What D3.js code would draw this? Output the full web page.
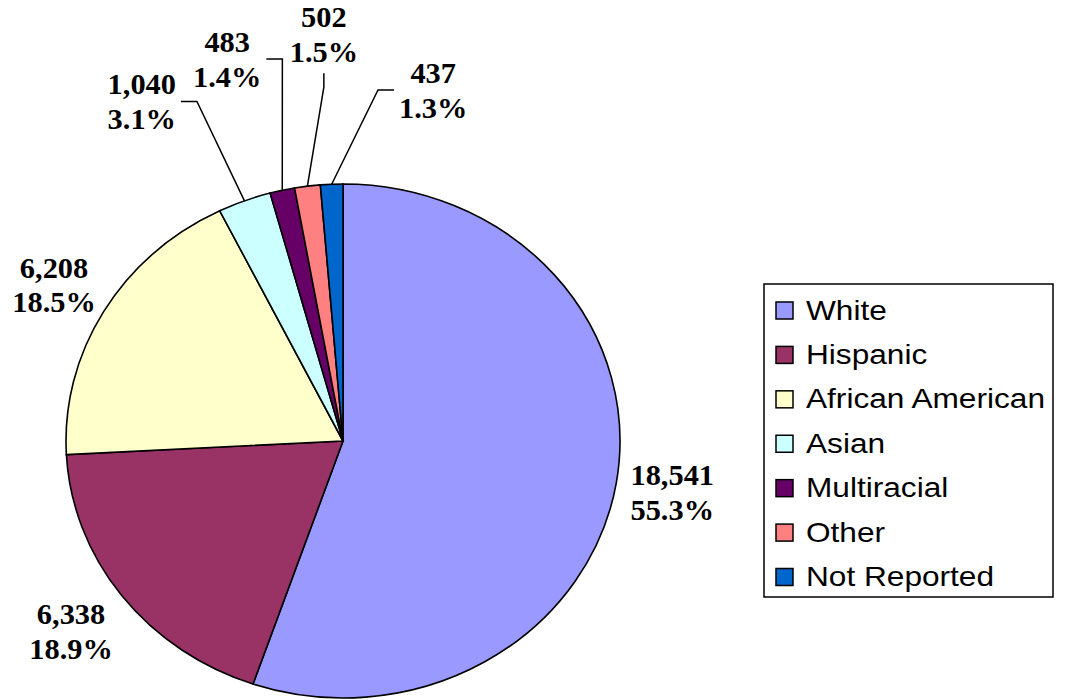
<!DOCTYPE html>
<html>
<head>
<meta charset="utf-8">
<script src="https://cdn.jsdelivr.net/npm/d3@7"></script>
<style>
  html, body { margin: 0; padding: 0; background: #fff; }
  svg { display: block; }
</style>
</head>
<body>
<script>
// data
const categories = ["White", "Hispanic", "African American", "Asian", "Multiracial", "Other", "Not Reported"];
const counts = [18541, 6338, 6208, 1040, 483, 502, 437];
const colors = ["#9999FF", "#993366", "#FFFFCC", "#CCFFFF", "#660066", "#FF8080", "#0066CC"];

// label placement: [angle in degrees (null = slice middle), distance as share of radius]
const labelPlace = [[null, 1.205], [null, 1.23], [null, 1.208], [331.2, 1.508], [344.3, 1.545], [357.5, 1.584], [13.4, 1.405]];

const width = 1066, height = 700;
const cx = 343, cy = 441, rx = 277, ry = 257;
const sx = rx / ry;

const svg = d3.select("body").append("svg")
  .attr("width", width)
  .attr("height", height);

const data = categories.map((name, i) => ({ name, value: counts[i], color: colors[i], place: labelPlace[i] }));
const total = d3.sum(counts);

const pie = d3.pie().value(d => d.value).sort(null);
const arcs = pie(data);

const arc = d3.arc().innerRadius(0).outerRadius(ry);

// pie is stretched a bit wider than tall, like the original
const pieG = svg.append("g").attr("transform", `translate(${cx},${cy}) scale(${sx},1)`);
pieG.selectAll("path")
  .data(arcs)
  .enter()
  .append("path")
  .attr("d", arc)
  .attr("fill", d => d.data.color)
  .attr("stroke", "#000")
  .attr("stroke-width", 1.6)
  .attr("vector-effect", "non-scaling-stroke");

// point on the stretched ellipse
const onEllipse = (a, k) => [cx + rx * k * Math.sin(a), cy - ry * k * Math.cos(a)];

const fmt = d3.format(",");
const tsx = 1.03;
const leaders = svg.append("g");
const labels = svg.append("g");

arcs.forEach(d => {
  const mid = (d.startAngle + d.endAngle) / 2;
  const a = d.data.place[0] === null ? mid : d.data.place[0] * Math.PI / 180;
  const [lx, ly] = onEllipse(a, d.data.place[1]);

  const g = labels.append("g").attr("transform", `translate(${lx},${ly}) scale(${tsx},1)`);
  const t = g.append("text")
    .attr("text-anchor", "middle")
    .attr("font-family", "'Liberation Serif', 'Times New Roman', serif")
    .attr("font-weight", "bold")
    .attr("font-size", 29.5)
    .attr("fill", "#000");
  t.append("tspan").attr("x", 0).attr("y", -7).text(fmt(d.data.value));
  t.append("tspan").attr("x", 0).attr("y", 28).text((d.data.value / total * 100).toFixed(1) + "%");

  // leader lines only for labels pulled away from their slice
  if (d.data.place[0] === null) return;
  const bb = t.node().getBBox();
  const left = lx + bb.x * tsx, right = lx + (bb.x + bb.width) * tsx;
  const top = ly + bb.y, bottom = ly + bb.y + bb.height;
  const midY = (top + bottom) / 2;
  const [ex, ey] = onEllipse(mid, 1);
  const gap = 5, elbow = 16;
  let pts;
  if (ex > right + gap) {
    pts = [[right + gap, midY], [right + gap + elbow, midY], [ex, ey]];
  } else if (ex < left - gap) {
    pts = [[left - gap, midY], [left - gap - elbow, midY], [ex, ey]];
  } else {
    const bx = (left + right) / 2;
    pts = [[bx, bottom + gap], [bx, bottom + gap + 14], [ex, ey]];
  }
  leaders.append("path")
    .attr("d", d3.line()(pts))
    .attr("fill", "none")
    .attr("stroke", "#000")
    .attr("stroke-width", 1.5);
});

// legend
const legend = svg.append("g");
legend.append("rect")
  .attr("x", 764).attr("y", 284)
  .attr("width", 289).attr("height", 313)
  .attr("fill", "#fff")
  .attr("stroke", "#000")
  .attr("stroke-width", 1.5);

const row = d3.scalePoint().domain(categories).range([319.5, 586]);

const items = legend.selectAll(".item")
  .data(data)
  .enter()
  .append("g")
  .attr("class", "item")
  .attr("transform", d => `translate(776,${row(d.name)})`);

items.append("rect")
  .attr("x", 0).attr("y", -17.5)
  .attr("width", 17).attr("height", 17)
  .attr("fill", d => d.color)
  .attr("stroke", "#000")
  .attr("stroke-width", 1.5);

items.append("text")
  .attr("transform", "translate(30,0) scale(1.15,1)")
  .attr("font-family", "'Liberation Sans', Arial, sans-serif")
  .attr("font-size", 27.5)
  .attr("fill", "#000")
  .text(d => d.name);
</script>
</body>
</html>
